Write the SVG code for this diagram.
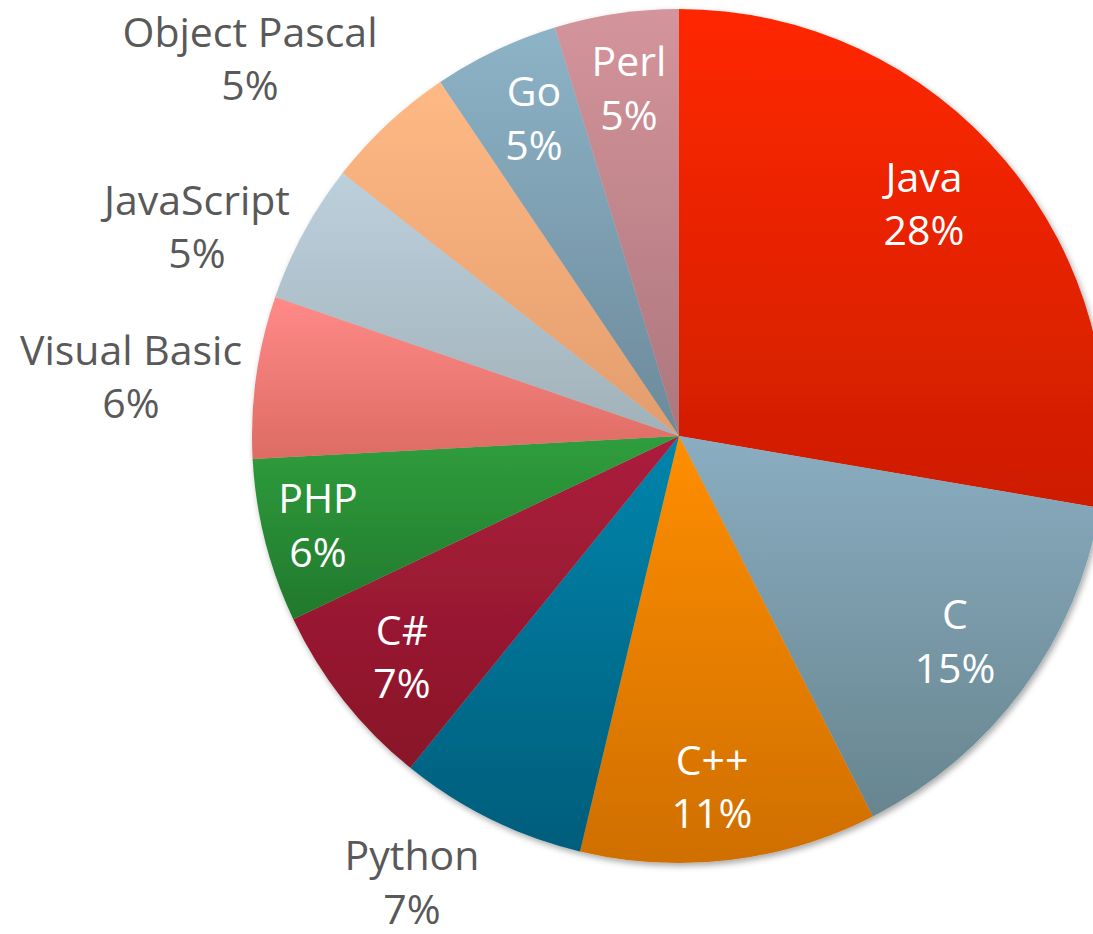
<svg xmlns="http://www.w3.org/2000/svg" width="1093" height="934" viewBox="0 0 1093 934">
  <defs>
    <filter id="shadow" x="-10%" y="-10%" width="120%" height="120%">
      <feDropShadow dx="2" dy="3" stdDeviation="3" flood-color="#000" flood-opacity="0.35"/>
    </filter>
    <linearGradient id="g-java" x1="0" y1="0" x2="0" y2="1"><stop offset="0" stop-color="#ff2800"/><stop offset="1" stop-color="#cd1d00"/></linearGradient>
    <linearGradient id="g-c" x1="0" y1="0" x2="0" y2="1"><stop offset="0" stop-color="#8aadc1"/><stop offset="1" stop-color="#67858f"/></linearGradient>
    <linearGradient id="g-cpp" x1="0" y1="0" x2="0" y2="1"><stop offset="0" stop-color="#ff8e00"/><stop offset="1" stop-color="#cf6f00"/></linearGradient>
    <linearGradient id="g-python" x1="0" y1="0" x2="0" y2="1"><stop offset="0" stop-color="#0085ac"/><stop offset="1" stop-color="#005d7b"/></linearGradient>
    <linearGradient id="g-csharp" x1="0" y1="0" x2="0" y2="1"><stop offset="0" stop-color="#ac1f3d"/><stop offset="1" stop-color="#881428"/></linearGradient>
    <linearGradient id="g-php" x1="0" y1="0" x2="0" y2="1"><stop offset="0" stop-color="#2f9e3d"/><stop offset="1" stop-color="#21782c"/></linearGradient>
    <linearGradient id="g-vb" x1="0" y1="0" x2="0" y2="1"><stop offset="0" stop-color="#ff8a88"/><stop offset="1" stop-color="#dd6c64"/></linearGradient>
    <linearGradient id="g-js" x1="0" y1="0" x2="0" y2="1"><stop offset="0" stop-color="#bcd0dc"/><stop offset="1" stop-color="#a1b1b9"/></linearGradient>
    <linearGradient id="g-op" x1="0" y1="0" x2="0" y2="1"><stop offset="0" stop-color="#ffb985"/><stop offset="1" stop-color="#e39c6c"/></linearGradient>
    <linearGradient id="g-go" x1="0" y1="0" x2="0" y2="1"><stop offset="0" stop-color="#8db3c7"/><stop offset="1" stop-color="#6c8a9a"/></linearGradient>
    <linearGradient id="g-perl" x1="0" y1="0" x2="0" y2="1"><stop offset="0" stop-color="#d4949b"/><stop offset="1" stop-color="#ad767d"/></linearGradient>
  </defs>
  <style>
    text { font-family: "Open Sans", "Liberation Sans", sans-serif; font-size: 41px; text-anchor: middle; }
    .in { fill: #ffffff; }
    .out { fill: #595959; }
  </style>
  <rect width="1093" height="934" fill="#ffffff"/>

  <!-- pie slices, centre (679,436), radius 427 -->
  <g id="pie" filter="url(#shadow)">
    <g id="java"><path d="M679,436 L679,9 A427,427 0 0 1 1099.89,507.95 Z" fill="url(#g-java)"/></g>
    <g id="c"><path d="M679,436 L1099.89,507.95 A427,427 0 0 1 872.85,816.46 Z" fill="url(#g-c)"/></g>
    <g id="cpp"><path d="M679,436 L872.85,816.46 A427,427 0 0 1 580.04,851.38 Z" fill="url(#g-cpp)"/></g>
    <g id="python"><path d="M679,436 L580.04,851.38 A427,427 0 0 1 410.28,767.84 Z" fill="url(#g-python)"/></g>
    <g id="csharp"><path d="M679,436 L410.28,767.84 A427,427 0 0 1 293.27,619.16 Z" fill="url(#g-csharp)"/></g>
    <g id="php"><path d="M679,436 L293.27,619.16 A427,427 0 0 1 252.62,459.09 Z" fill="url(#g-php)"/></g>
    <g id="visual-basic"><path d="M679,436 L252.62,459.09 A427,427 0 0 1 275.26,296.98 Z" fill="url(#g-vb)"/></g>
    <g id="javascript"><path d="M679,436 L275.26,296.98 A427,427 0 0 1 342.52,173.11 Z" fill="url(#g-js)"/></g>
    <g id="object-pascal"><path d="M679,436 L342.52,173.11 A427,427 0 0 1 440.23,82 Z" fill="url(#g-op)"/></g>
    <g id="go"><path d="M679,436 L440.23,82 A427,427 0 0 1 554.87,27.44 Z" fill="url(#g-go)"/></g>
    <g id="perl"><path d="M679,436 L554.87,27.44 A427,427 0 0 1 679,9 Z" fill="url(#g-perl)"/></g>
  </g>

  <!-- data labels -->
  <g id="labels">
    <g id="label-java" class="in"><text x="924" y="192">Java</text><text x="924" y="245">28%</text></g>
    <g id="label-c" class="in"><text x="955" y="629">C</text><text x="955" y="683">15%</text></g>
    <g id="label-cpp" class="in"><text x="712" y="775">C++</text><text x="712" y="828">11%</text></g>
    <g id="label-python" class="out"><text x="412" y="870">Python</text><text x="412" y="924">7%</text></g>
    <g id="label-csharp" class="in"><text x="402" y="645">C#</text><text x="402" y="698">7%</text></g>
    <g id="label-php" class="in"><text x="318" y="513">PHP</text><text x="318" y="567">6%</text></g>
    <g id="label-vb" class="out"><text x="131" y="365">Visual Basic</text><text x="131" y="418">6%</text></g>
    <g id="label-js" class="out"><text x="197" y="215">JavaScript</text><text x="197" y="268">5%</text></g>
    <g id="label-op" class="out"><text x="250" y="47">Object Pascal</text><text x="250" y="100">5%</text></g>
    <g id="label-go" class="in"><text x="534" y="106">Go</text><text x="534" y="160">5%</text></g>
    <g id="label-perl" class="in"><text x="629" y="76">Perl</text><text x="629" y="130">5%</text></g>
  </g>
</svg>
